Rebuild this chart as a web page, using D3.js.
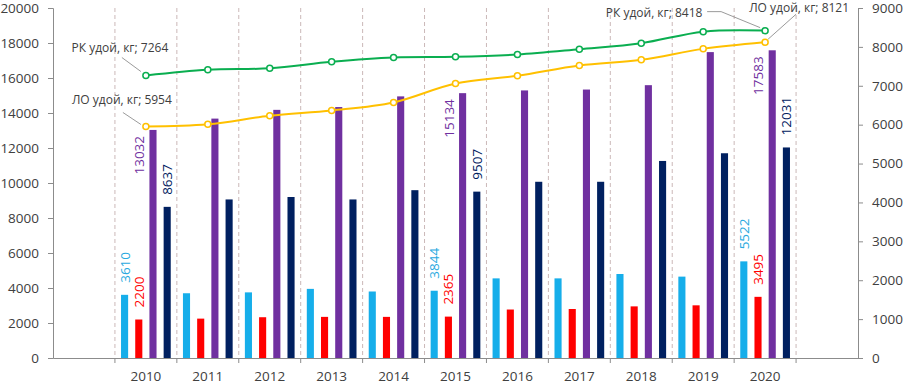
<!DOCTYPE html>
<html>
<head>
<meta charset="utf-8">
<script src="https://cdn.jsdelivr.net/npm/d3@7"></script>
<style>
  body { margin: 0; background: #fff; }
  text { font-family: "Open Sans", sans-serif; }
</style>
</head>
<body>
<svg id="chart"></svg>
<script>
const years = ["2010", "2011", "2012", "2013", "2014", "2015", "2016", "2017", "2018", "2019", "2020"]
// bars, left axis
const lightBlue = [3610, 3700, 3750, 3950, 3800, 3844, 4550, 4550, 4800, 4650, 5522]
const red = [2200, 2250, 2330, 2350, 2350, 2365, 2770, 2800, 2950, 3010, 3495]
const purple = [13032, 13680, 14180, 14340, 14950, 15134, 15290, 15340, 15590, 17480, 17583]
const navy = [8637, 9060, 9200, 9060, 9590, 9507, 10070, 10070, 11260, 11700, 12031]
// lines, right axis
const rkYield = [7264, 7410, 7450, 7615, 7726, 7744, 7803, 7940, 8095, 8392, 8418]
const loYield = [5954, 6010, 6230, 6367, 6572, 7059, 7256, 7521, 7667, 7949, 8121]
const leftTicks = [0, 2000, 4000, 6000, 8000, 10000, 12000, 14000, 16000, 18000, 20000]
const rightTicks = [0, 1000, 2000, 3000, 4000, 5000, 6000, 7000, 8000, 9000]
const labelledYears = ["2010", "2015", "2020"]

const width = 903, height = 384
const plotLeft = 53, plotRight = 858, plotTop = 8, plotBottom = 358

const svg = d3.select("#chart")
    .attr("width", width)
    .attr("height", height)

// one empty slot on each side of the years
const slots = ["pre"].concat(years).concat(["post"])
const x = d3.scaleBand().domain(slots).range([plotLeft, plotRight]).padding(0)

const series = [
    { key: "lb", values: lightBlue, color: "#16AEEA" },
    { key: "red", values: red, color: "#FF0000" },
    { key: "purple", values: purple, color: "#7030A0" },
    { key: "navy", values: navy, color: "#002060" }
]
const inner = d3.scaleBand()
    .domain(series.map(s => s.key))
    .range([0, x.bandwidth()])
    .paddingInner(0.5)
    .paddingOuter(0.43)

const y = d3.scaleLinear().domain([0, 20000]).range([plotBottom, plotTop])
const yR = d3.scaleLinear().domain([0, 9000]).range([plotBottom, plotTop])

// dashed separators between years
svg.append("g")
    .selectAll("line")
    .data(years.concat(["post"]))
    .enter()
    .append("line")
    .attr("x1", d => x(d))
    .attr("x2", d => x(d))
    .attr("y1", plotTop)
    .attr("y2", plotBottom)
    .attr("stroke", "#cbb8b8")
    .attr("stroke-width", 1)
    .attr("stroke-dasharray", "4,3")

// bars
series.forEach(s => {
    svg.append("g")
        .selectAll("rect")
        .data(years.map((yr, i) => ({ yr: yr, v: s.values[i] })))
        .enter()
        .append("rect")
        .attr("x", d => x(d.yr) + inner(s.key))
        .attr("width", inner.bandwidth())
        .attr("y", d => y(d.v))
        .attr("height", d => plotBottom - y(d.v))
        .attr("fill", s.color)
})

// data labels (rotated)
series.forEach(s => {
    const lab = years.map((yr, i) => ({ yr: yr, v: s.values[i] }))
        .filter(d => labelledYears.includes(d.yr))
    svg.append("g")
        .selectAll("text")
        .data(lab)
        .enter()
        .append("text")
        .attr("transform", d => {
            let cx = x(d.yr) + inner(s.key) + inner.bandwidth() / 2 + 5
            let cy = y(d.v) - 12
            if (s.key == "purple") {
                cx -= 14
                cy = y(d.v) + 6
            }
            return `translate(${cx},${cy}) rotate(-90)`
        })
        .attr("text-anchor", s.key == "purple" ? "end" : "start")
        .attr("font-size", "13.5px")
        .attr("fill", s.color == "#16AEEA" ? "#29a9e0" : s.color)
        .text(d => d.v)
})

// lines
const line = d3.line()
    .x((d, i) => x(years[i]) + x.bandwidth() / 2)
    .y(d => yR(d))
    .curve(d3.curveCatmullRom.alpha(0.5))

const lines = [
    { values: rkYield, color: "#0AAE50" },
    { values: loYield, color: "#FFC000" }
]
lines.forEach(l => {
    svg.append("path")
        .attr("d", line(l.values))
        .attr("fill", "none")
        .attr("stroke", l.color)
        .attr("stroke-width", 2)
    svg.append("g")
        .selectAll("circle")
        .data(l.values)
        .enter()
        .append("circle")
        .attr("cx", (d, i) => x(years[i]) + x.bandwidth() / 2)
        .attr("cy", d => yR(d))
        .attr("r", 3)
        .attr("fill", "#fff")
        .attr("stroke", l.color)
        .attr("stroke-width", 1.5)
})

// callouts with leader lines
function px(i) { return x(years[i]) + x.bandwidth() / 2 }
const last = years.length - 1
const callouts = [
    { text: "РК удой, кг; " + rkYield[0], tx: px(0) - 26, ty: yR(rkYield[0]) - 24,
      pts: [[px(0) - 24, yR(rkYield[0]) - 18], [px(0) - 5, yR(rkYield[0]) - 4]] },
    { text: "ЛО удой, кг; " + loYield[0], tx: px(0) - 24, ty: yR(loYield[0]) - 22,
      pts: [[px(0) - 23, yR(loYield[0]) - 14], [px(0) - 5, yR(loYield[0]) - 2]] },
    { text: "РК удой, кг; " + rkYield[last], tx: px(last) - 111, ty: yR(rkYield[last]) - 14,
      pts: [[px(last) - 58, yR(rkYield[last]) - 19], [px(last) - 44, yR(rkYield[last]) - 19], [px(last) - 5, yR(rkYield[last]) - 3]] },
    { text: "ЛО удой, кг; " + loYield[last], tx: px(last) + 34, ty: yR(loYield[last]) - 30,
      pts: [[px(last) + 31, yR(loYield[last]) - 28], [px(last) + 3, yR(loYield[last]) - 3]] }
]
callouts.forEach(c => {
    svg.append("path")
        .attr("d", d3.line()(c.pts))
        .attr("fill", "none")
        .attr("stroke", "#808080")
        .attr("stroke-width", 0.8)
    svg.append("text")
        .attr("x", c.tx)
        .attr("y", c.ty)
        .attr("text-anchor", "middle")
        .attr("font-size", "12px")
        .attr("fill", "#404040")
        .text(c.text)
})

// axes
const axisColor = "#8c8c8c"
svg.append("g")
    .attr("transform", `translate(${plotLeft},0)`)
    .call(d3.axisLeft(y).tickValues(leftTicks).tickFormat(d3.format("d")).tickSize(5).tickPadding(9))
svg.append("g")
    .attr("transform", `translate(${plotRight},0)`)
    .call(d3.axisRight(yR).tickValues(rightTicks).tickFormat(d3.format("d")).tickSize(5).tickPadding(9))
svg.append("g")
    .attr("transform", `translate(0,${plotBottom})`)
    .call(d3.axisBottom(x).tickValues([]).tickSizeOuter(0))

// tick marks at slot borders
svg.append("g")
    .selectAll("line")
    .data(years.concat(["post"]))
    .enter()
    .append("line")
    .attr("x1", d => x(d))
    .attr("x2", d => x(d))
    .attr("y1", plotBottom)
    .attr("y2", plotBottom + 5)
    .attr("stroke", axisColor)
svg.append("g")
    .selectAll("text")
    .data(years)
    .enter()
    .append("text")
    .attr("x", d => x(d) + x.bandwidth() / 2)
    .attr("y", 381)
    .attr("text-anchor", "middle")
    .attr("font-size", "13.5px")
    .attr("fill", "#404040")
    .text(d => d)

svg.selectAll(".domain").attr("stroke", axisColor)
svg.selectAll(".tick line").attr("stroke", axisColor)
svg.selectAll(".tick text")
    .attr("font-size", "13.5px")
    .attr("fill", "#404040")
    .style("font-family", "'Open Sans', sans-serif")
</script>
</body>
</html>
